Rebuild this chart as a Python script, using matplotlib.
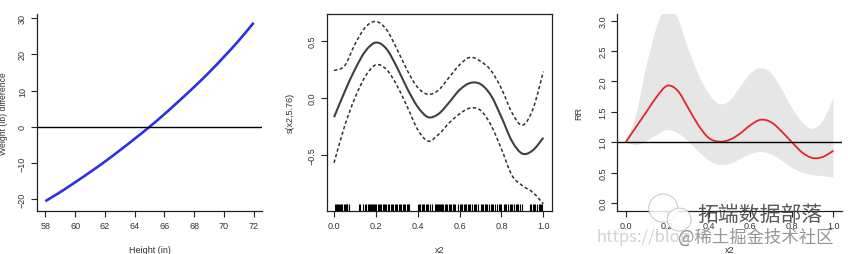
import matplotlib
matplotlib.use("Agg")
import matplotlib.pyplot as plt
import matplotlib.transforms as mtransforms
from matplotlib.path import Path
from matplotlib.patches import PathPatch, Ellipse

plt.rcParams["font.family"] = ["Liberation Sans", "DejaVu Sans"]

TXT = "#333333"

# ---- panel 1: weight difference by height ----
height_in = [58, 59, 60, 61, 62, 63, 64, 65, 66, 67, 68, 69, 70, 71, 72]
weight_diff = [-20.5, -18.0, -15.3, -12.5, -9.6, -6.5, -3.3, 0.0,
               3.5, 7.2, 11.0, 15.0, 19.3, 23.8, 28.7]

# ---- panel 2: smooth term s(x2,5.76) with +/- 2 se ----
x2 = [0.0, 0.05, 0.10, 0.15, 0.20, 0.25, 0.30, 0.35, 0.40, 0.45, 0.50,
      0.55, 0.60, 0.65, 0.70, 0.75, 0.80, 0.85, 0.90, 0.95, 1.0]
s_fit = [-0.17, 0.05, 0.25, 0.41, 0.485, 0.43, 0.27, 0.08, -0.08, -0.17, -0.14,
         -0.04, 0.07, 0.13, 0.12, 0.02, -0.17, -0.38, -0.49, -0.46, -0.35]
s_upper = [0.24, 0.28, 0.47, 0.62, 0.67, 0.60, 0.43, 0.24, 0.09, 0.03, 0.07,
           0.18, 0.29, 0.355, 0.32, 0.24, 0.08, -0.13, -0.24, -0.10, 0.23]
s_lower = [-0.57, -0.25, 0.0, 0.19, 0.29, 0.25, 0.11, -0.08, -0.28, -0.38, -0.32,
           -0.22, -0.14, -0.09, -0.11, -0.24, -0.45, -0.68, -0.77, -0.83, -0.93]
rug_x = [0.005, 0.01, 0.015, 0.02, 0.024, 0.03, 0.035, 0.04, 0.046, 0.05, 0.055,
         0.06, 0.064, 0.07, 0.118, 0.125, 0.14, 0.146, 0.152, 0.16, 0.165, 0.17,
         0.176, 0.18, 0.186, 0.19, 0.196, 0.2, 0.21, 0.215, 0.22, 0.226, 0.232,
         0.24, 0.245, 0.25, 0.256, 0.262, 0.27, 0.275, 0.28, 0.29, 0.295, 0.3,
         0.31, 0.315, 0.32, 0.33, 0.335, 0.34, 0.35, 0.355, 0.36, 0.4, 0.405,
         0.41, 0.42, 0.425, 0.43, 0.44, 0.445, 0.45, 0.46, 0.47, 0.48, 0.485,
         0.49, 0.495, 0.5, 0.505, 0.51, 0.515, 0.52, 0.53, 0.535, 0.54, 0.55,
         0.555, 0.56, 0.57, 0.575, 0.58, 0.59, 0.6, 0.605, 0.61, 0.62, 0.625,
         0.63, 0.64, 0.645, 0.65, 0.66, 0.67, 0.675, 0.68, 0.69, 0.7, 0.705,
         0.71, 0.72, 0.725, 0.73, 0.74, 0.75, 0.755, 0.76, 0.77, 0.78, 0.79,
         0.795, 0.8, 0.81, 0.815, 0.82, 0.83, 0.84, 0.845, 0.85, 0.86, 0.87,
         0.875, 0.88, 0.89, 0.9, 0.935, 0.94, 0.95, 0.955, 0.96, 0.97, 0.98,
         0.985, 0.99, 0.995]

# ---- panel 3: relative risk with confidence band ----
rr_fit = [1.00, 1.25, 1.50, 1.75, 1.93, 1.85, 1.57, 1.28, 1.07, 1.01, 1.04,
          1.14, 1.28, 1.37, 1.33, 1.18, 1.00, 0.83, 0.74, 0.76, 0.86]
rr_upper = [1.00, 1.45, 2.25, 2.90, 3.25, 3.05, 2.55, 2.12, 1.80, 1.63, 1.68,
            1.90, 2.13, 2.22, 2.14, 1.88, 1.57, 1.33, 1.22, 1.35, 1.73]
rr_lower = [1.00, 0.95, 1.02, 1.12, 1.20, 1.15, 1.02, 0.85, 0.70, 0.63, 0.64,
            0.72, 0.80, 0.84, 0.80, 0.70, 0.58, 0.50, 0.46, 0.44, 0.42]


def bezier_segments(xs, ys):
    # Catmull-Rom style cubic segments through the given points,
    # so the path is drawn smoothly by matplotlib itself.
    pts = list(zip(xs, ys))
    n = len(pts)
    verts, codes = [], []
    for i in range(n - 1):
        p0 = pts[max(i - 1, 0)]
        p1 = pts[i]
        p2 = pts[i + 1]
        p3 = pts[min(i + 2, n - 1)]
        c1 = (p1[0] + (p2[0] - p0[0]) / 6, p1[1] + (p2[1] - p0[1]) / 6)
        c2 = (p2[0] - (p3[0] - p1[0]) / 6, p2[1] - (p3[1] - p1[1]) / 6)
        verts += [c1, c2, p2]
        codes += [Path.CURVE4] * 3
    return verts, codes


def smooth_line(ax, xs, ys, **kw):
    verts, codes = bezier_segments(xs, ys)
    path = Path([(xs[0], ys[0])] + verts, [Path.MOVETO] + codes)
    ax.add_patch(PathPatch(path, fill=False, **kw))


def smooth_band(ax, xs, lo, hi, **kw):
    up_v, up_c = bezier_segments(xs, hi)
    lo_v, lo_c = bezier_segments(xs[::-1], lo[::-1])
    verts = [(xs[0], hi[0])] + up_v + [(xs[-1], lo[-1])] + lo_v + [(xs[0], hi[0])]
    codes = [Path.MOVETO] + up_c + [Path.LINETO] + lo_c + [Path.CLOSEPOLY]
    ax.add_patch(PathPatch(Path(verts, codes), **kw))


def r_style(ax, box="l"):
    # R base-graphics look: outward ticks, rotated y labels, L or full box
    ax.tick_params(direction="out", length=4, width=0.8, pad=3.2,
                   labelsize=6.5, labelcolor=TXT, color="#222222")
    for lab in ax.get_yticklabels():
        lab.set_rotation(90)
        lab.set_va("center")
    for name, sp in ax.spines.items():
        sp.set_color("#222222")
        sp.set_linewidth(0.9)
        if box == "l" and name in ("top", "right"):
            sp.set_visible(False)


fig = plt.figure(figsize=(8.48, 2.55), dpi=100)

# Panel 1
ax1 = fig.add_axes([0.0436, 0.1686, 0.2654, 0.7724])
smooth_line(ax1, height_in, weight_diff, color="#3030e0", lw=1.9)
ax1.axhline(0, color="black", lw=1)
ax1.set_xlim(57.44, 72.56)
ax1.set_ylim(-23.2, 31.1)
ax1.set_xticks(range(58, 73, 2))
ax1.set_yticks([-20, -10, 0, 10, 20, 30])
r_style(ax1, "l")
ax1.set_xlabel("Height (in)", fontsize=6.5, color=TXT)
ax1.set_ylabel("Weight (lb) difference", fontsize=6.2, color=TXT)
ax1.xaxis.set_label_coords(0.5, -0.175)
ax1.yaxis.set_label_coords(-0.128, 0.5)

# Panel 2
ax2 = fig.add_axes([0.3853, 0.1699, 0.2653, 0.7711])
smooth_line(ax2, x2, s_fit, color="#404040", lw=1.5)
smooth_line(ax2, x2, s_upper, color="#303030", lw=1.1, ls=(0, (2.2, 1.6)))
smooth_line(ax2, x2, s_lower, color="#303030", lw=1.1, ls=(0, (2.2, 1.6)))
rug_tr = mtransforms.blended_transform_factory(ax2.transData, ax2.transAxes)
ax2.vlines(rug_x, 0, 0.035, transform=rug_tr, color="black", lw=0.8)
ax2.set_xlim(-0.035, 1.04)
ax2.set_ylim(-0.99, 0.735)
ax2.set_xticks([0.0, 0.2, 0.4, 0.6, 0.8, 1.0])
ax2.set_yticks([-0.5, 0.0, 0.5])
r_style(ax2, "full")
ax2.set_xlabel("x2", fontsize=6.5, color=TXT)
ax2.set_ylabel("s(x2,5.76)", fontsize=6.5, color=TXT)
ax2.xaxis.set_label_coords(0.5, -0.175)
ax2.yaxis.set_label_coords(-0.141, 0.5)

# Panel 3
ax3 = fig.add_axes([0.728, 0.1699, 0.2646, 0.7711])
smooth_band(ax3, x2, rr_lower, rr_upper, facecolor="#e6e6e6", lw=0)
smooth_line(ax3, x2, rr_fit, color="#e3262a", lw=1.3)
ax3.axhline(1.0, color="black", lw=1)
ax3.set_xlim(-0.04, 1.04)
ax3.set_ylim(-0.127, 3.11)
ax3.set_xticks([0.0, 0.2, 0.4, 0.6, 0.8, 1.0])
ax3.set_yticks([0.0, 0.5, 1.0, 1.5, 2.0, 2.5, 3.0])
r_style(ax3, "l")
ax3.set_xlabel("x2", fontsize=6.5, color=TXT)
ax3.set_ylabel("RR", fontsize=6.5, color=TXT)
ax3.xaxis.set_label_coords(0.5, -0.175)
ax3.yaxis.set_label_coords(-0.153, 0.5)

# watermark (wechat-style bubbles + text)
fig.patches.append(Ellipse((0.782, 0.18), 0.034, 0.11, transform=fig.transFigure,
                           facecolor="white", edgecolor="#c4c4c4", lw=0.8, alpha=0.85))
fig.patches.append(Ellipse((0.801, 0.135), 0.028, 0.09, transform=fig.transFigure,
                           facecolor="white", edgecolor="#c4c4c4", lw=0.8, alpha=0.85))
cjk = ["Noto Sans CJK SC", "DejaVu Sans"]
fig.text(0.822, 0.157, "拓端数据部落", fontsize=15, color="#3c3c3c",
         family=cjk, ha="left", va="center", alpha=0.85)
fig.text(0.704, 0.07, "https://blog", fontsize=12, color="#d2d2d2",
         family=cjk, ha="left", va="center")
fig.text(0.80, 0.07, "@稀土掘金技术社区", fontsize=12.5, color="#8a8a8a",
         family=cjk, ha="left", va="center", alpha=0.9)

fig.savefig("out.png", dpi=100, facecolor="white")
